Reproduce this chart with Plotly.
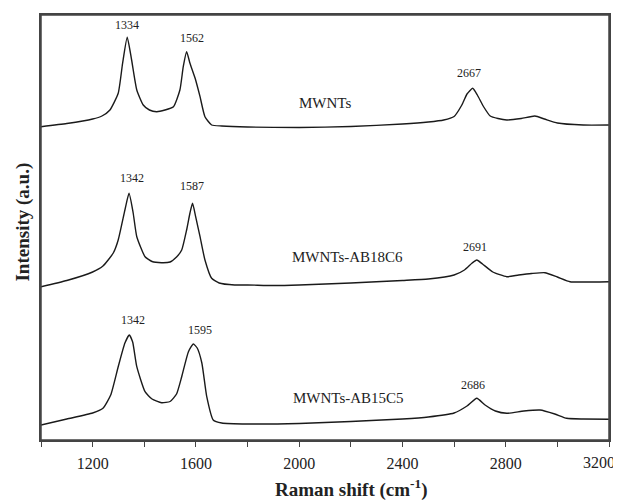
import plotly.graph_objects as go

# Raman shift (cm^-1) and intensity (a.u., stacked offsets as in the figure)
x_mwnt = [1000, 1100, 1200, 1236, 1267, 1299, 1316, 1334, 1351, 1371, 1396, 1420, 1448, 1480,
          1513, 1538, 1551, 1564, 1577, 1597, 1616, 1635, 1661, 1700, 1800, 2000, 2200, 2400,
          2500, 2560, 2600, 2630, 2650, 2672, 2690, 2715, 2740, 2770, 2804, 2860, 2913, 2950,
          3000, 3100, 3200]
y_mwnt = [313.3, 316.5, 321, 324, 330, 346.7, 376.7, 402.7, 380, 350, 335, 330, 328.3, 330,
          333.3, 350, 373.3, 388.3, 376.7, 361.7, 343.3, 323.3, 315, 314, 313, 312.5, 313.5, 316,
          318, 320, 323.5, 335, 346, 351.7, 345, 333, 324, 321.5, 320, 321.5, 324, 321,
          317, 315, 315]

x_ab18 = [1000, 1100, 1200, 1240, 1280, 1299, 1325, 1341, 1357, 1371, 1403, 1430, 1467, 1500,
          1525, 1545, 1564, 1577, 1587, 1599, 1616, 1635, 1661, 1690, 1750, 1800, 1900, 2000,
          2200, 2400, 2500, 2600, 2640, 2670, 2688, 2710, 2750, 2804, 2850, 2900, 2952, 3000,
          3049, 3100, 3200]
y_ab18 = [153.3, 159.5, 168, 174, 187, 200, 230, 246.7, 227, 203.3, 183.3, 178.5, 177.3, 178,
          183, 190, 210, 227, 236.7, 223.3, 203.3, 180, 161.7, 157, 155, 155, 154.5, 155,
          157, 159.5, 161, 165, 170, 177, 180, 176, 168, 163.3, 165, 166.5, 167.3, 163,
          158.3, 158, 158.3]

x_ab15 = [1000, 1100, 1200, 1240, 1270, 1299, 1325, 1342, 1355, 1371, 1403, 1430, 1467, 1500,
          1525, 1545, 1571, 1590, 1605, 1623, 1642, 1667, 1700, 1800, 2000, 2200, 2400, 2500,
          2600, 2650, 2688, 2720, 2760, 2804, 2870, 2933, 2990, 3036, 3100, 3200]
y_ab15 = [15, 21, 27, 31.7, 45, 73.3, 97, 105, 98, 73.3, 48.3, 41, 37.3, 38.5,
          46, 63.3, 88.3, 96, 92, 77, 43.3, 20, 17, 16, 16.5, 18.5, 21, 23,
          27, 34, 41.7, 35, 29, 26.7, 29, 30, 26, 21.7, 21, 20.7]

# in-plot labels
label_text = ["1334", "1562", "2667", "MWNTs",
              "1342", "1587", "2691", "MWNTs-AB18C6",
              "1342", "1595", "2686", "MWNTs-AB15C5"]
label_x = [1334, 1586, 2658, 2100,
           1351, 1586, 2681, 2189,
           1355, 1616, 2674, 2190]
label_y = [415, 401.7, 367, 337,
           261.7, 254, 193.3, 183.3,
           120, 110, 55, 41.7]
label_size = [12, 12, 12, 15, 12, 12, 12, 15, 12, 12, 12, 15]

tick_vals = [1200, 1600, 2000, 2400, 2800, 3200]
tick_text = ["1200", "1600", "2000", "2400", "2800", ""]
last_tick_label = "3200"
x_title = "<b>Raman shift (cm<sup>-1</sup>)</b>"
y_title = "<b>Intensity (a.u.)</b>"

SERIF = "Liberation Serif, Times New Roman, serif"
INK = "#1a1a1a"

fig = go.Figure()
for xs, ys, nm in [(x_mwnt, y_mwnt, "MWNTs"), (x_ab18, y_ab18, "MWNTs-AB18C6"),
                   (x_ab15, y_ab15, "MWNTs-AB15C5")]:
    fig.add_trace(go.Scatter(x=xs, y=ys, mode="lines", name=nm,
                             line=dict(color=INK, width=1.4, shape="spline", smoothing=0.5),
                             showlegend=False))

for t, xv, yv, s in zip(label_text, label_x, label_y, label_size):
    fig.add_annotation(x=xv, y=yv, text=t, showarrow=False,
                       font=dict(family=SERIF, size=s, color="#222"))

# last tick label, set slightly inward as in the original
fig.add_annotation(x=tick_vals[-1], xref="x", yref="paper", y=-0.052, text=last_tick_label,
                   showarrow=False, xanchor="right", yanchor="middle", xshift=8,
                   font=dict(family=SERIF, size=16, color="#222"))

# axis titles
fig.add_annotation(xref="paper", yref="paper", x=0.5475, y=-0.113, text=x_title,
                   showarrow=False, xanchor="center", yanchor="middle",
                   font=dict(family=SERIF, size=19, color="#222"))
fig.add_annotation(xref="paper", yref="paper", x=-0.0317, y=0.514, text=y_title,
                   showarrow=False, textangle=-90, xanchor="center", yanchor="middle",
                   font=dict(family=SERIF, size=19, color="#222"))

# plot frame
fig.add_shape(type="rect", xref="paper", yref="paper", x0=0, y0=0, x1=1, y1=1,
              line=dict(color="#444", width=1.5), layer="above")

fig.update_layout(
    width=613, height=493,
    margin=dict(l=33, r=12, t=7, b=61),
    paper_bgcolor="white", plot_bgcolor="white",
    font=dict(family=SERIF, color="#222"),
)
fig.update_xaxes(
    range=[1000, 3200], tickmode="array", tickvals=tick_vals, ticktext=tick_text,
    ticks="outside", ticklen=5, tickcolor="#444", tickwidth=1.2,
    ticklabelstandoff=3,
    minor=dict(ticks="outside", ticklen=5, tick0=1000, dtick=200, tickcolor="#444"),
    tickfont=dict(family=SERIF, size=16, color="#222"),
    showline=True, linecolor="#444", linewidth=1.5, mirror=True,
    showgrid=False, zeroline=False, automargin=False,
)
fig.update_yaxes(
    range=[0, 425], showticklabels=False, ticks="",
    showline=True, linecolor="#444", linewidth=1.5, mirror=True,
    showgrid=False, zeroline=False, automargin=False,
)

fig.write_html("out.html")
